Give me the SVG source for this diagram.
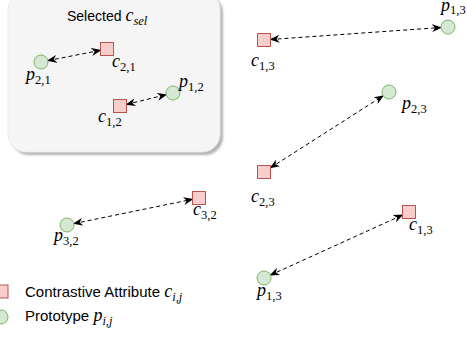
<svg xmlns="http://www.w3.org/2000/svg" width="467" height="338" viewBox="0 0 467 338">
<style>
.sq{fill:#f8cecc;stroke:#b85450;stroke-width:1}
.ci{fill:#d5e8d4;stroke:#82b366;stroke-width:1}
.m{font-family:"Liberation Serif","DejaVu Serif",serif;font-style:italic;font-size:18px;fill:#000}
.s{font-family:"Liberation Serif","DejaVu Serif",serif;font-size:12.5px;font-style:normal;fill:#000}
.si{font-family:"Liberation Serif","DejaVu Serif",serif;font-size:12.5px;font-style:italic;fill:#000}
.t{font-family:"Liberation Sans",Arial,sans-serif;fill:#000}
.c{fill:none;stroke:#000;stroke-width:1;stroke-dasharray:4 3;marker-start:url(#arr);marker-end:url(#arr)}
</style>
<defs>
<marker id="arr" viewBox="0 0 10 8" refX="9" refY="4" markerWidth="10" markerHeight="8" orient="auto-start-reverse" markerUnits="userSpaceOnUse">
<path d="M0,0 L10,4 L0,8 L3,4 Z" fill="#000"/>
</marker>
<filter id="blur" x="-10%" y="-10%" width="120%" height="120%"><feGaussianBlur stdDeviation="0.8"/></filter>
</defs>
<rect width="467" height="338" fill="#fff"/>
<g id="selected-box">
<rect x="11" y="-5" width="212" height="160" rx="18" fill="#b3b3b3" filter="url(#blur)"/>
<rect x="8" y="-8" width="212" height="160" rx="18" fill="#f5f5f5" stroke="#ececec" stroke-width="1"/>
<text x="67" y="21" class="t" font-size="14">Selected <tspan class="m">c</tspan><tspan class="si" dy="4">sel</tspan></text>
</g>
<g id="connectors">
<line class="c" x1="47.9" y1="60.6" x2="100.5" y2="50.3"/>
<line class="c" x1="126.5" y1="104.4" x2="166.2" y2="94.7"/>
<line class="c" x1="270.5" y1="39.5" x2="441" y2="27.5"/>
<line class="c" x1="270.5" y1="167.8" x2="383.1" y2="95.8"/>
<line class="c" x1="73.9" y1="223.6" x2="192.5" y2="199.3"/>
<line class="c" x1="270.4" y1="275.1" x2="402.5" y2="215"/>
</g>
<g id="p21"><circle class="ci" cx="41" cy="62" r="7"/><text x="26" y="80" class="m">p<tspan class="s" dy="4">2,1</tspan></text></g>
<g id="c21"><rect class="sq" x="100.5" y="42.5" width="13" height="13"/><text x="112" y="67" class="m">c<tspan class="s" dy="4">2,1</tspan></text></g>
<g id="p12"><circle class="ci" cx="173" cy="93" r="7"/><text x="179" y="87" class="m">p<tspan class="s" dy="4">1,2</tspan></text></g>
<g id="c12"><rect class="sq" x="113.5" y="99.5" width="13" height="13"/><text x="98" y="122" class="m">c<tspan class="s" dy="4">1,2</tspan></text></g>
<g id="c13a"><rect class="sq" x="257.5" y="33.5" width="13" height="13"/><text x="251" y="66" class="m">c<tspan class="s" dy="4">1,3</tspan></text></g>
<g id="p13a"><circle class="ci" cx="448" cy="27" r="7"/><text x="441" y="11" class="m">p<tspan class="s" dy="3">1,3</tspan></text></g>
<g id="p23"><circle class="ci" cx="389" cy="92" r="7"/><text x="402" y="109" class="m">p<tspan class="s" dy="4">2,3</tspan></text></g>
<g id="c23"><rect class="sq" x="257.5" y="165.5" width="13" height="13"/><text x="251" y="202" class="m">c<tspan class="s" dy="4">2,3</tspan></text></g>
<g id="c13b"><rect class="sq" x="402.5" y="205.5" width="13" height="13"/><text x="409" y="230" class="m">c<tspan class="s" dy="4">1,3</tspan></text></g>
<g id="p13b"><circle class="ci" cx="264" cy="278" r="7"/><text x="257" y="296" class="m">p<tspan class="s" dy="4">1,3</tspan></text></g>
<g id="c32"><rect class="sq" x="192.5" y="191.5" width="13" height="13"/><text x="193" y="215" class="m">c<tspan class="s" dy="4">3,2</tspan></text></g>
<g id="p32"><circle class="ci" cx="67" cy="225" r="7"/><text x="54" y="241" class="m">p<tspan class="s" dy="4">3,2</tspan></text></g>
<g id="legend">
<rect class="sq" x="-5" y="285" width="13" height="13"/>
<circle class="ci" cx="1" cy="317" r="7"/>
<text x="25" y="297" class="t" font-size="15">Contrastive Attribute <tspan class="m">c</tspan><tspan class="si" dy="4">i,j</tspan></text>
<text x="25" y="321" class="t" font-size="15">Prototype <tspan class="m">p</tspan><tspan class="si" dy="4">i,j</tspan></text>
</g>
</svg>
